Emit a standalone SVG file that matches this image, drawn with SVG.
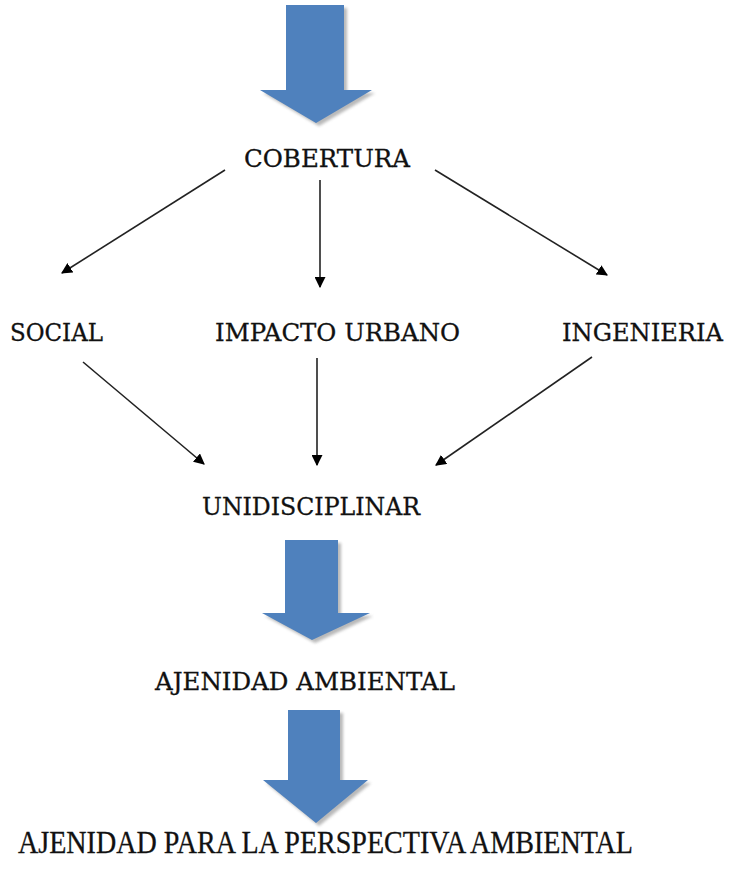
<svg xmlns="http://www.w3.org/2000/svg" width="730" height="870" viewBox="0 0 730 870">
<style>
  .lbl { font-family: "DejaVu Serif", "Liberation Serif", serif; font-size: 25px; fill: #111; stroke: #111; stroke-width: 0.3; }
  .lblc { font-family: "Liberation Serif", "DejaVu Serif", serif; font-size: 31px; fill: #111; stroke: #111; stroke-width: 0.3; }
  .big { fill: #4F81BD; }
  .shadow { fill: #8a8a8a; opacity: 0.6; filter: url(#blur); }
  .conn line { stroke: #222; stroke-width: 1.6; marker-end: url(#ah); }
</style>
<defs>
  <filter id="blur" x="-10%" y="-10%" width="120%" height="120%">
    <feGaussianBlur stdDeviation="1.5"/>
  </filter>
  <marker id="ah" viewBox="0 0 10 10" refX="9" refY="5" markerWidth="11" markerHeight="11" markerUnits="userSpaceOnUse" orient="auto">
    <path d="M0,0 L10,5 L0,10 z" fill="#000"/>
  </marker>
</defs>
<rect width="730" height="870" fill="#fff"/>

<g id="arrow-top">
  <path class="shadow" d="M289,8 L347,8 L347,93 L375,93 L319,126 L263,93 L289,93 z"/>
  <path class="big" d="M286,5 L344,5 L344,90 L372,90 L316,123 L260,90 L286,90 z"/>
</g>

<g id="node-cobertura"><text class="lbl" x="244" y="167" textLength="166" lengthAdjust="spacingAndGlyphs">COBERTURA</text></g>
<g id="node-social"><text class="lbl" x="10" y="341" textLength="93" lengthAdjust="spacingAndGlyphs">SOCIAL</text></g>
<g id="node-impacto"><text class="lbl" x="215" y="341" textLength="245" lengthAdjust="spacingAndGlyphs">IMPACTO URBANO</text></g>
<g id="node-ingenieria"><text class="lbl" x="562" y="341" textLength="161" lengthAdjust="spacingAndGlyphs">INGENIERIA</text></g>
<g id="node-unidisciplinar"><text class="lbl" x="202" y="515" textLength="218" lengthAdjust="spacingAndGlyphs">UNIDISCIPLINAR</text></g>

<g id="arrow-mid">
  <path class="shadow" d="M288,543 L341,543 L341,616 L373,616 L315,643 L265,616 L288,616 z"/>
  <path class="big" d="M285,540 L338,540 L338,613 L370,613 L312,640 L262,613 L285,613 z"/>
</g>

<g id="node-ajenidad"><text class="lbl" x="155" y="690" textLength="300" lengthAdjust="spacingAndGlyphs">AJENIDAD AMBIENTAL</text></g>

<g id="arrow-bottom">
  <path class="shadow" d="M291,713 L343,713 L343,783 L371,783 L319,826 L266,783 L291,783 z"/>
  <path class="big" d="M288,710 L340,710 L340,780 L368,780 L316,823 L263,780 L288,780 z"/>
</g>

<g id="node-perspectiva"><text class="lblc" x="18" y="853" textLength="615" lengthAdjust="spacingAndGlyphs">AJENIDAD PARA LA PERSPECTIVA AMBIENTAL</text></g>

<g id="connectors" class="conn">
  <line x1="225" y1="170" x2="62" y2="273"/>
  <line x1="320" y1="180" x2="320" y2="287"/>
  <line x1="435" y1="170" x2="607" y2="275"/>
  <line x1="83" y1="362" x2="204" y2="464"/>
  <line x1="317" y1="358" x2="317" y2="465"/>
  <line x1="592" y1="357" x2="436" y2="465"/>
</g>
</svg>
